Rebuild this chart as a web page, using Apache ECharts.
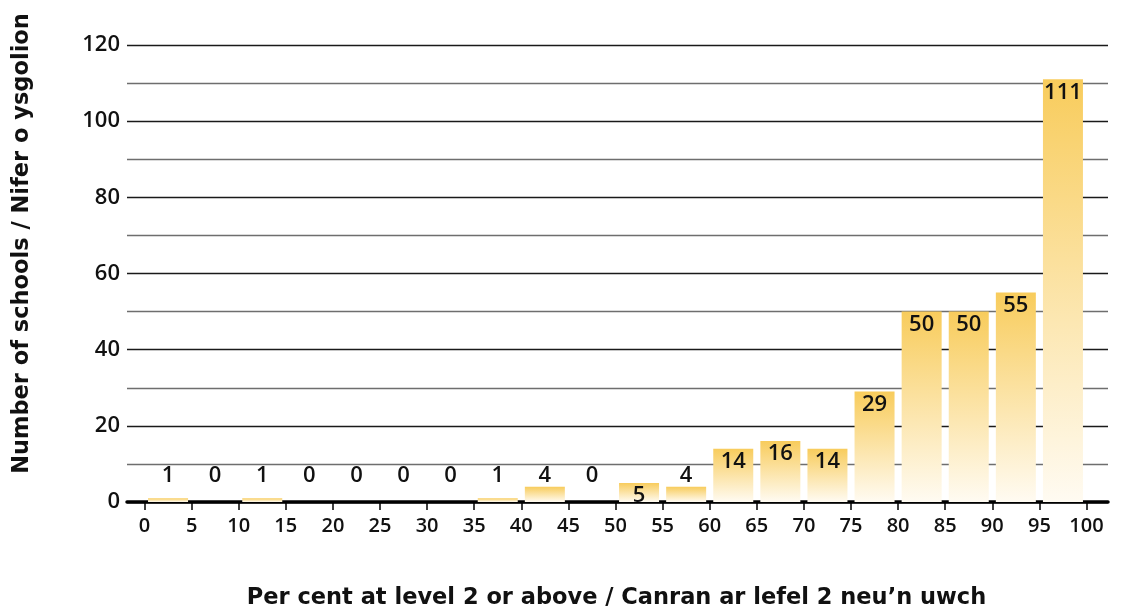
<!DOCTYPE html>
<html><head><meta charset="utf-8">
<script src="https://cdn.jsdelivr.net/npm/echarts@6/dist/echarts.min.js"></script>
<style>html,body{margin:0;padding:0;background:#fff}#c{width:1124px;height:616px}</style>
</head><body><div id="c"></div>
<script>
const bands = ['0-5','5-10','10-15','15-20','20-25','25-30','30-35','35-40','40-45','45-50','50-55','55-60','60-65','65-70','70-75','75-80','80-85','85-90','90-95','95-100'];
const schools = [1,0,1,0,0,0,0,1,4,0,5,4,14,16,14,29,50,50,55,111];
const xTitle = 'Per cent at level 2 or above / Canran ar lefel 2 neu’n uwch';
const yTitle = 'Number of schools / Nifer o ysgolion';
const insideThreshold = 5;   // values below this get their label above the bar
const smallLabelLevel = 7;   // height (in axis units) at which small labels sit

const FONT = '"Open Sans", sans-serif';
const TFONT = '"DejaVu Sans", sans-serif';
const chart = echarts.init(document.getElementById('c'));
const smallLabels = schools.map((v, i) => v < insideThreshold ? [i, smallLabelLevel, v] : null).filter(d => d);

chart.setOption({
  animation: false,
  grid: [
    {left: 127, right: 16, top: 45, bottom: 114},
    {left: 144.5, right: 37.5, top: 45, bottom: 114}
  ],
  xAxis: [
    {gridIndex: 0, type: 'value', min: 0, max: 1, axisLabel: {show: false}, axisTick: {show: false}, splitLine: {show: false},
     axisLine: {show: true, lineStyle: {color: '#000', width: 3.5}}},
    {gridIndex: 1, type: 'category', data: bands, show: false},
    {gridIndex: 1, type: 'value', min: 0, max: 100, interval: 5, position: 'bottom',
     axisLine: {show: false}, splitLine: {show: false},
     axisTick: {show: true, length: 8, lineStyle: {color: '#000', width: 1.5}},
     axisLabel: {fontFamily: FONT, fontSize: 20, fontWeight: 600, color: '#111', margin: 14}}
  ],
  yAxis: [
    {gridIndex: 0, type: 'value', min: 0, max: 120, interval: 20,
     axisLine: {show: false}, axisTick: {show: false},
     axisLabel: {fontFamily: FONT, fontSize: 22, fontWeight: 600, color: '#111', margin: 7},
     splitLine: {show: true, lineStyle: {color: '#1a1a1a', width: 1.4}},
     minorTick: {show: false, splitNumber: 2},
     minorSplitLine: {show: true, lineStyle: {color: '#6e6e6e', width: 1.3}}},
    {gridIndex: 1, type: 'value', min: 0, max: 120, show: false}
  ],
  series: [
    {type: 'bar', xAxisIndex: 1, yAxisIndex: 1, data: schools, barWidth: 40,
     itemStyle: {color: new echarts.graphic.LinearGradient(0, 0, 0, 1, [
       {offset: 0, color: '#f8cc5c'}, {offset: 1, color: '#fffbf2'}])},
     label: {show: true, position: 'insideTop', distance: 2, fontFamily: FONT, fontSize: 22, fontWeight: 600, color: '#111',
       formatter: p => p.value >= insideThreshold ? String(p.value) : ''}},
    {type: 'scatter', xAxisIndex: 1, yAxisIndex: 1, data: smallLabels, symbolSize: 0, silent: true,
     itemStyle: {opacity: 1},
     label: {show: true, position: 'inside', fontFamily: FONT, fontSize: 22, fontWeight: 600, color: '#111', opacity: 1,
       formatter: p => String(p.value[2])}}
  ],
  graphic: [
    {type: 'text', x: 22, y: 243.5, rotation: Math.PI / 2,
     style: {text: yTitle, fontFamily: TFONT, fontSize: 22.5, fontWeight: 'bold', fill: '#111', align: 'center', verticalAlign: 'middle'}},
    {type: 'text', x: 616.5, y: 598,
     style: {text: xTitle, fontFamily: TFONT, fontSize: 22.5, fontWeight: 'bold', fill: '#111', align: 'center', verticalAlign: 'middle'}}
  ]
});
</script></body></html>
